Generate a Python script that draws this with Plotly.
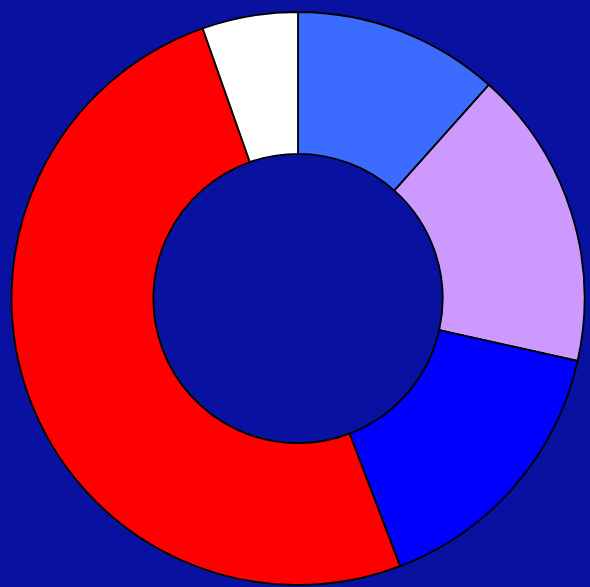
import plotly.graph_objects as go

labels = ["A", "B", "C", "D", "E"]
values = [11.6, 16.9, 15.7, 50.4, 5.4]
colors = ["#3b6bff", "#cc99ff", "#0000ff", "#ff0000", "#ffffff"]

BG = "#0912a0"

fig = go.Figure(go.Pie(
    labels=labels,
    values=values,
    hole=0.505,
    sort=False,
    direction="clockwise",
    rotation=0,
    textinfo="none",
    hoverinfo="label+percent",
    marker=dict(colors=colors, line=dict(color="#000000", width=1.8)),
    showlegend=False,
))

fig.update_layout(
    width=590, height=587,
    margin=dict(l=11, r=5, t=12, b=2),
    paper_bgcolor=BG,
    plot_bgcolor=BG,
)

fig.write_html(
    "out.html",
    config={"displayModeBar": False},
    post_script=(
        "document.body.style.margin='0';"
        "document.body.style.overflow='hidden';"
        "document.body.style.background='" + BG + "';"
    ),
)
